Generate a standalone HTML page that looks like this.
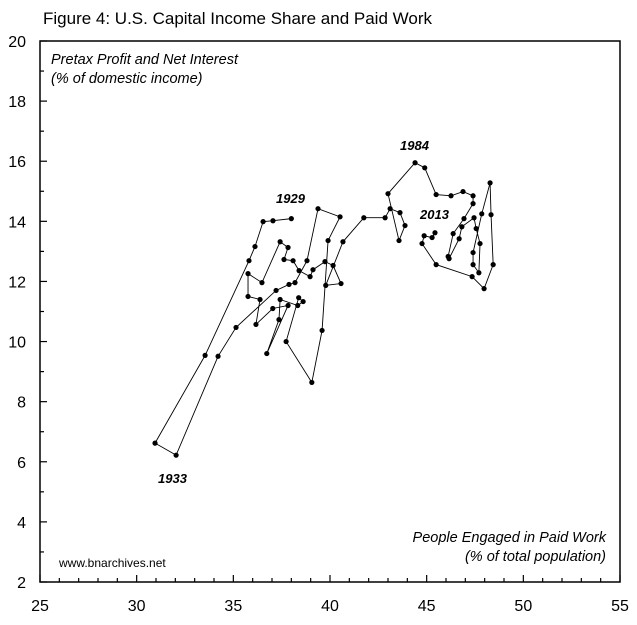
<!DOCTYPE html>
<html><head><meta charset="utf-8"><style>
html,body{margin:0;padding:0;background:#fff;}
svg{display:block;font-family:"Liberation Sans",Arial,sans-serif;}
</style></head><body>
<svg id="chart" width="637" height="625" viewBox="0 0 637 625" xmlns="http://www.w3.org/2000/svg">
<text x="43" y="24" font-size="17" fill="#000">Figure 4: U.S. Capital Income Share and Paid Work</text>
<rect x="40" y="41" width="580" height="541" fill="none" stroke="#000" stroke-width="1.5"/>
<g id="ticks"></g>
<g id="series"></g>
<text x="51" y="64" font-size="14.5" font-style="italic">Pretax Profit and Net Interest</text>
<text x="51" y="83" font-size="14.5" font-style="italic">(% of domestic income)</text>
<text x="606" y="542" font-size="14.5" font-style="italic" text-anchor="end">People Engaged in Paid Work</text>
<text x="606" y="561" font-size="14.5" font-style="italic" text-anchor="end">(% of total population)</text>
<text x="59" y="567" font-size="12">www.bnarchives.net</text>
<text x="276" y="203" font-size="13" font-weight="bold" font-style="italic">1929</text>
<text x="158" y="483" font-size="13" font-weight="bold" font-style="italic">1933</text>
<text x="400" y="150" font-size="13" font-weight="bold" font-style="italic">1984</text>
<text x="420" y="219" font-size="13" font-weight="bold" font-style="italic">2013</text>
</svg>
<script>
const xVals=[38.0,37.05,36.54,36.12,35.81,33.54,30.95,32.04,34.21,35.14,37.21,37.88,38.19,38.81,39.38,40.52,39.90,39.59,39.06,37.73,38.38,38.61,38.33,37.42,37.36,36.73,37.83,37.04,36.17,36.38,35.76,35.76,36.48,37.42,37.83,37.62,38.09,38.40,38.97,39.12,39.74,40.16,40.57,39.78,40.67,41.75,42.85,43.11,43.62,43.88,43.57,43.00,44.40,44.90,45.49,46.26,46.88,47.40,47.40,46.93,46.37,46.11,46.16,46.68,46.82,47.45,47.56,47.76,47.70,47.40,47.40,47.85,48.28,48.33,48.44,47.97,47.35,45.49,44.76,44.87,45.28,45.43];
const yVals=[14.09,14.02,13.99,13.16,12.69,9.54,6.62,6.22,9.51,10.47,11.70,11.90,11.96,12.69,14.42,14.15,13.36,10.37,8.64,10.00,11.46,11.33,11.20,11.40,10.73,9.60,11.20,11.10,10.57,11.40,11.50,12.26,11.96,13.32,13.13,12.73,12.69,12.36,12.16,12.39,12.66,12.53,11.93,11.87,13.32,14.12,14.12,14.42,14.29,13.86,13.36,14.92,15.95,15.78,14.89,14.85,14.99,14.85,14.59,14.09,13.59,12.83,12.76,13.42,13.82,14.12,13.76,13.26,12.29,12.56,12.96,14.25,15.28,14.22,12.56,11.76,12.16,12.56,13.26,13.52,13.46,13.62];
const xTickLabels=["25","30","35","40","45","50","55"];
const yTickLabels=["2","4","6","8","10","12","14","16","18","20"];
const X0=40,X1=620,Y0=582,Y1=41,xMin=25,xMax=55,yMin=2,yMax=20;
function sx(v){return X0+(v-xMin)/(xMax-xMin)*(X1-X0);}
function sy(v){return Y0-(v-yMin)/(yMax-yMin)*(Y0-Y1);}
const NS="http://www.w3.org/2000/svg";
const tg=document.getElementById('ticks');
for(let v=xMin;v<=xMax;v++){
  const major=(v%5===0);
  const l=document.createElementNS(NS,'line');
  
  
  l.setAttribute('x1',sx(v));l.setAttribute('x2',sx(v));
  l.setAttribute('y1',Y0);l.setAttribute('y2',Y0-(major?7:4));
  l.setAttribute('stroke','#000');l.setAttribute('stroke-width','1.2');
  tg.appendChild(l);
}
xTickLabels.forEach(s=>{
  const t=document.createElementNS(NS,'text');
  
  
  t.setAttribute('x',sx(parseFloat(s)));t.setAttribute('y',611);
  t.setAttribute('font-size','16');t.setAttribute('text-anchor','middle');
  t.textContent=s;tg.appendChild(t);
});
for(let v=yMin;v<=yMax;v++){
  const major=(v%2===0);
  const l=document.createElementNS(NS,'line');
  
  
  l.setAttribute('x1',X0);l.setAttribute('x2',X0+(major?7:4));
  l.setAttribute('y1',sy(v));l.setAttribute('y2',sy(v));
  l.setAttribute('stroke','#000');l.setAttribute('stroke-width','1.2');
  tg.appendChild(l);
}
yTickLabels.forEach(s=>{
  const t=document.createElementNS(NS,'text');
  
  
  t.setAttribute('x',26);t.setAttribute('y',sy(parseFloat(s))+6);
  t.setAttribute('font-size','16');t.setAttribute('text-anchor','end');
  t.textContent=s;tg.appendChild(t);
});
const sg=document.getElementById('series');
const p=document.createElementNS(NS,'polyline');


p.setAttribute('points',xVals.map((x,i)=>sx(x)+','+sy(yVals[i])).join(' '));
p.setAttribute('fill','none');p.setAttribute('stroke','#000');p.setAttribute('stroke-width','0.9');
sg.appendChild(p);
xVals.forEach((x,i)=>{
  const c=document.createElementNS(NS,'circle');
  
  
  c.setAttribute('cx',sx(x));c.setAttribute('cy',sy(yVals[i]));c.setAttribute('r','2.6');
  c.setAttribute('fill','#000');
  sg.appendChild(c);
});
</script>
</body></html>
